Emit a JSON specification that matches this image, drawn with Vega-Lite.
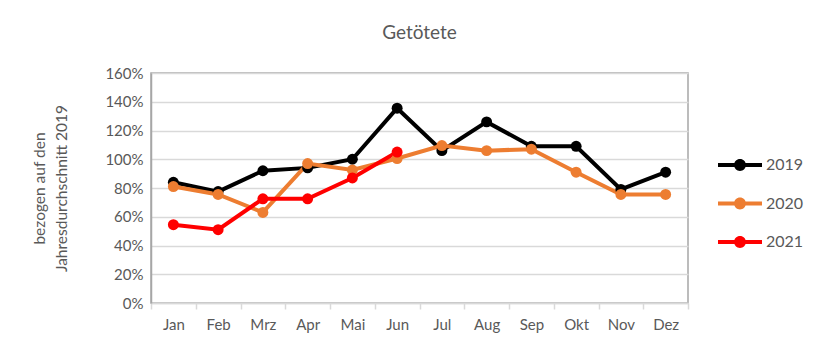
{
  "$schema": "https://vega.github.io/schema/vega-lite/v6.json",
  "width": 537,
  "height": 230,
  "autosize": {"type": "none"},
  "padding": {"left": 151, "top": 73, "right": 141, "bottom": 54},
  "background": "white",
  "title": {"text": "Getötete", "fontSize": 19, "font": "Lato", "fontWeight": "normal", "color": "#595959", "offset": 23},
  "config": {"view": {"stroke": "#a6a6a6", "strokeWidth": 1.5}, "font": "Lato"},
  "data": {"values": [
    {"Monat": "Jan", "Jahr": "2019", "Wert": 84},
    {"Monat": "Feb", "Jahr": "2019", "Wert": 77.5},
    {"Monat": "Mrz", "Jahr": "2019", "Wert": 92},
    {"Monat": "Apr", "Jahr": "2019", "Wert": 94},
    {"Monat": "Mai", "Jahr": "2019", "Wert": 100},
    {"Monat": "Jun", "Jahr": "2019", "Wert": 135.5},
    {"Monat": "Jul", "Jahr": "2019", "Wert": 106},
    {"Monat": "Aug", "Jahr": "2019", "Wert": 126},
    {"Monat": "Sep", "Jahr": "2019", "Wert": 109},
    {"Monat": "Okt", "Jahr": "2019", "Wert": 109},
    {"Monat": "Nov", "Jahr": "2019", "Wert": 79},
    {"Monat": "Dez", "Jahr": "2019", "Wert": 91},
    {"Monat": "Jan", "Jahr": "2020", "Wert": 81},
    {"Monat": "Feb", "Jahr": "2020", "Wert": 75.5},
    {"Monat": "Mrz", "Jahr": "2020", "Wert": 63},
    {"Monat": "Apr", "Jahr": "2020", "Wert": 97},
    {"Monat": "Mai", "Jahr": "2020", "Wert": 92.5},
    {"Monat": "Jun", "Jahr": "2020", "Wert": 100.5},
    {"Monat": "Jul", "Jahr": "2020", "Wert": 109.5},
    {"Monat": "Aug", "Jahr": "2020", "Wert": 106},
    {"Monat": "Sep", "Jahr": "2020", "Wert": 107},
    {"Monat": "Okt", "Jahr": "2020", "Wert": 91},
    {"Monat": "Nov", "Jahr": "2020", "Wert": 75.5},
    {"Monat": "Dez", "Jahr": "2020", "Wert": 75.5},
    {"Monat": "Jan", "Jahr": "2021", "Wert": 54.5},
    {"Monat": "Feb", "Jahr": "2021", "Wert": 51},
    {"Monat": "Mrz", "Jahr": "2021", "Wert": 72.5},
    {"Monat": "Apr", "Jahr": "2021", "Wert": 72.5},
    {"Monat": "Mai", "Jahr": "2021", "Wert": 87},
    {"Monat": "Jun", "Jahr": "2021", "Wert": 105}
  ]},
  "mark": {"type": "line", "strokeWidth": 4, "point": {"size": 120, "filled": true, "opacity": 1}},
  "encoding": {
    "x": {
      "field": "Monat", "type": "ordinal",
      "sort": ["Jan", "Feb", "Mrz", "Apr", "Mai", "Jun", "Jul", "Aug", "Sep", "Okt", "Nov", "Dez"],
      "bandPosition": 0.5,
      "scale": {"type": "band", "paddingInner": 0, "paddingOuter": 0},
      "axis": {"title": null, "labelAngle": 0, "labelFontSize": 15, "labelColor": "#595959", "labelPadding": 8,
        "tickBand": "extent", "ticks": true, "tickColor": "#d9d9d9", "tickSize": 6, "tickWidth": 1.5,
        "domainColor": "#d9d9d9", "domainWidth": 1.5, "grid": false}
    },
    "y": {
      "field": "Wert", "type": "quantitative",
      "scale": {"domain": [0, 160], "nice": false},
      "axis": {"values": [0, 20, 40, 60, 80, 100, 120, 140, 160], "labelExpr": "datum.value + '%'",
        "labelFontSize": 15, "labelColor": "#595959", "ticks": false, "labelPadding": 8,
        "gridColor": "#d9d9d9", "gridWidth": 1.5, "domainColor": "#a6a6a6", "domainWidth": 1.5,
        "title": ["bezogen auf den", "Jahresdurchschnitt 2019"], "titleFontSize": 15.5, "titleColor": "#595959",
        "titleFontWeight": "normal", "titlePadding": 35, "titleLineHeight": 22}
    },
    "color": {
      "field": "Jahr", "type": "nominal",
      "scale": {"domain": ["2019", "2020", "2021"], "range": ["#000000", "#ED7D31", "#FF0000"]},
      "legend": {"orient": "none", "legendX": 567, "legendY": 70, "title": null,
        "symbolType": "M-1,-0.09L1,-0.09L1,0.09L-1,0.09Z M0.27,0A0.27,0.27 0 1,1 -0.27,0A0.27,0.27 0 1,1 0.27,0Z",
        "symbolSize": 1936, "symbolStrokeWidth": 0, "labelFontSize": 16, "labelColor": "#595959",
        "labelOffset": 4, "rowPadding": 8.5, "padding": 0,
        "encode": {"symbols": {"update": {"fill": {"scale": "color", "field": "value"}, "fillOpacity": {"value": 1}}}}}
    }
  }
}
